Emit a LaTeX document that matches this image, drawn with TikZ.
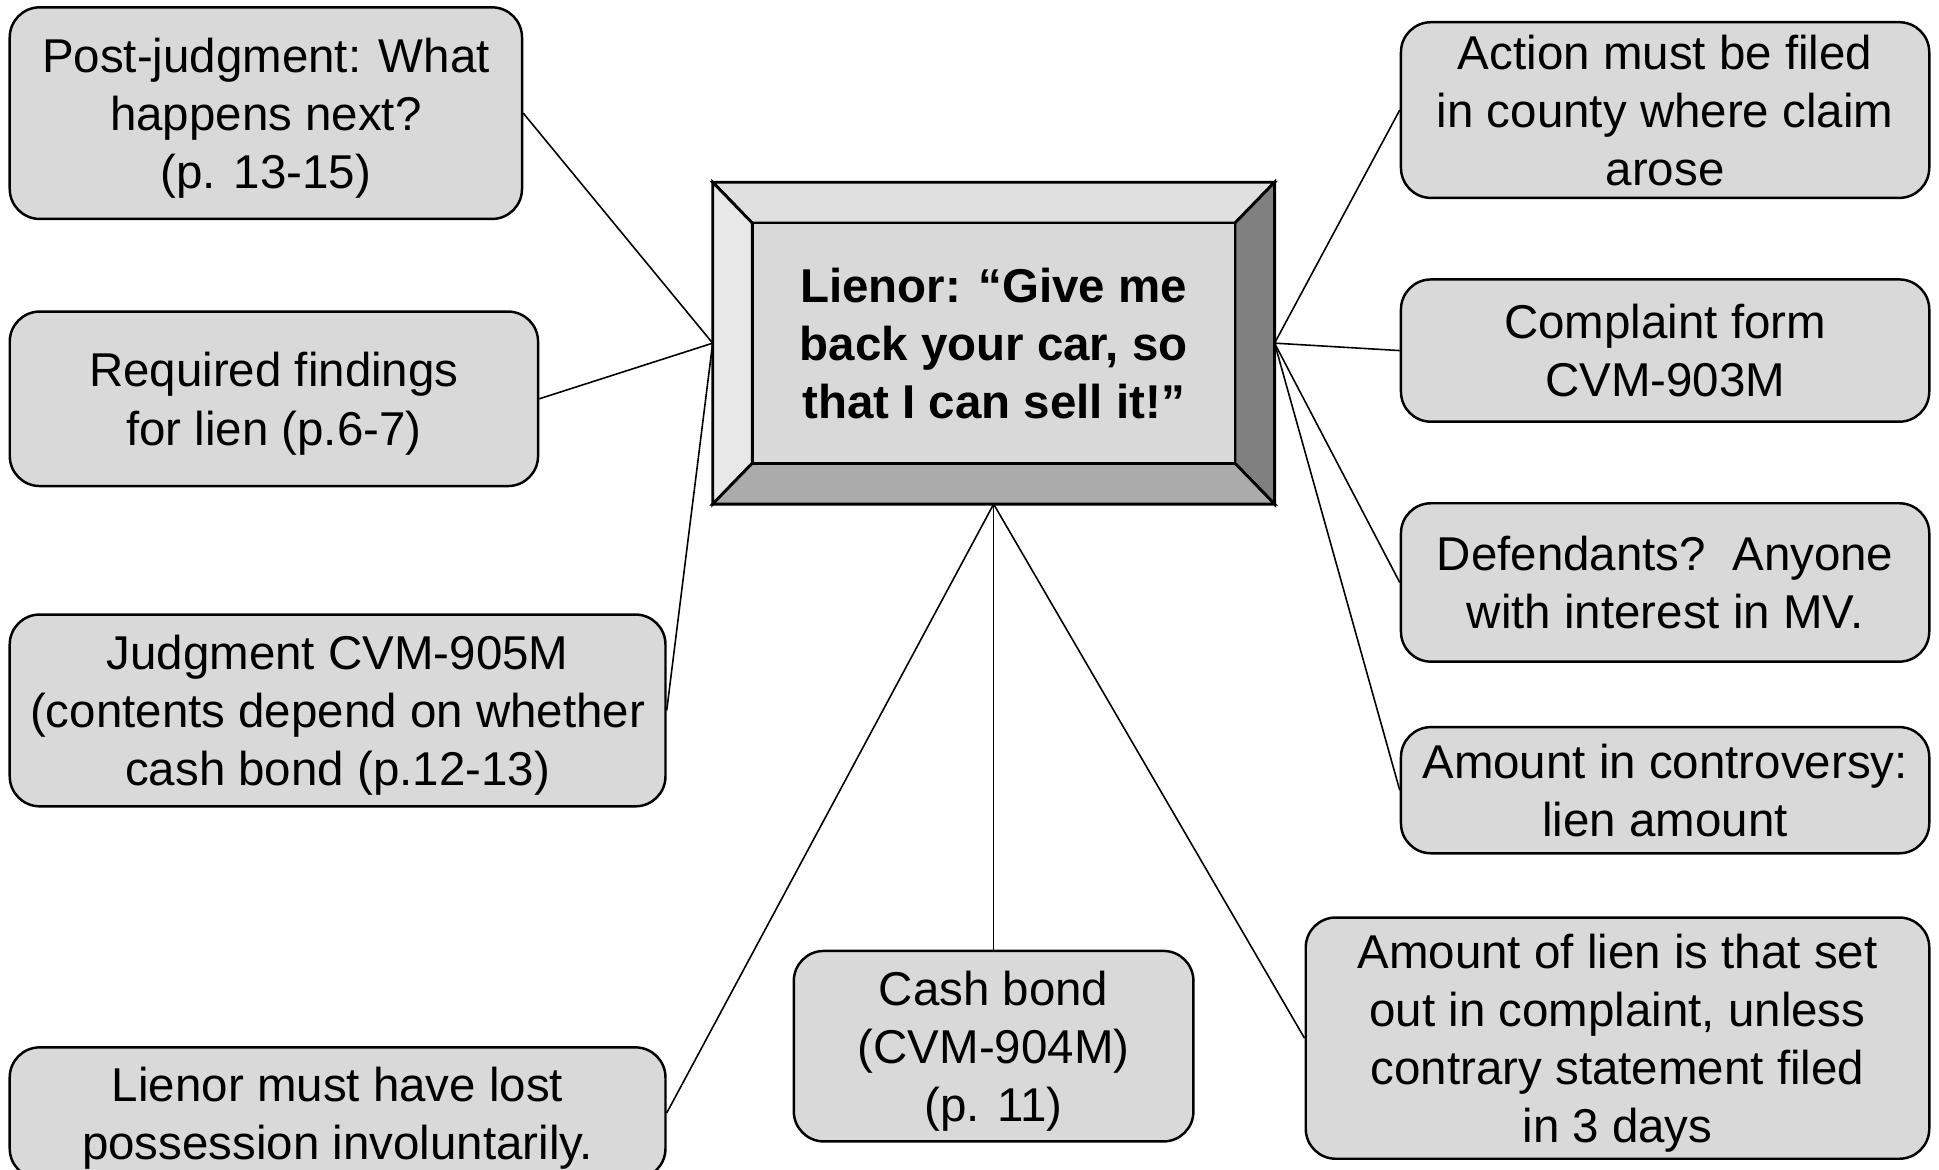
\documentclass[tikz,border=0pt]{standalone}
\usepackage{fontspec}
\setmainfont{Liberation Sans}
\definecolor{boxgray}{HTML}{D9D9D9}
\definecolor{bevtop}{HTML}{E0E0E0}
\definecolor{bevleft}{HTML}{E8E8E8}
\definecolor{bevright}{HTML}{808080}
\definecolor{bevbot}{HTML}{ABABAB}
\tikzset{
  bx/.style={draw=black, line width=0.7pt, fill=boxgray, rounded corners=0.3cm,
    align=center, inner sep=0pt, text depth=0pt, font=\fontsize{13.5}{16.5}\selectfont},
  conn/.style={draw=black, line width=0.45pt},
  bev/.style={draw=black, line width=0.8pt, line join=miter}
}
\begin{document}
\begin{tikzpicture}[x=0.012366cm, y=-0.012366cm]
\fill[white] (0,0) rectangle (1568,946);
\useasboundingbox (0,0) rectangle (1568,946);

% central bevelled box
\node[minimum width=5.602cm, minimum height=3.203cm, inner sep=0pt] (c) at (803.5,277.5) {};
\coordinate (inw) at ([shift={(32,33)}]c.north west);
\coordinate (ine) at ([shift={(-32,33)}]c.north east);
\coordinate (ise) at ([shift={(-32,-33)}]c.south east);
\coordinate (isw) at ([shift={(32,-33)}]c.south west);
\filldraw[bev, fill=bevtop] (c.north west) -- (c.north east) -- (ine) -- (inw) -- cycle;
\filldraw[bev, fill=bevleft] (c.north west) -- (inw) -- (isw) -- (c.south west) -- cycle;
\filldraw[bev, fill=bevright] (c.north east) -- (c.south east) -- (ise) -- (ine) -- cycle;
\filldraw[bev, fill=bevbot] (c.south west) -- (isw) -- (ise) -- (c.south east) -- cycle;
\filldraw[bev, fill=boxgray] (inw) -- (ine) -- (ise) -- (isw) -- cycle;
\node[align=center, inner sep=0pt, text depth=0pt, font=\fontsize{13.5}{16.5}\selectfont\bfseries] (ctext) at (c.center)
  {Lienor: “Give me\\back your car, so\\that I can sell it!”};

% left boxes
\node[bx, minimum width=5.12cm, minimum height=2.115cm] (post) at (215,91.5)
  {Post-judgment: What\\happens next?\\(p. 13-15)};
\node[bx, minimum width=5.28cm, minimum height=1.744cm] (req) at (221.5,322.5)
  {Required findings\\for lien (p.6-7)};
\node[bx, minimum width=6.554cm, minimum height=1.917cm] (judg) at (273,574.5)
  {Judgment CVM-905M\\(contents depend on whether\\cash bond (p.12-13)};
\node[bx, minimum width=6.554cm, minimum height=1.311cm] (lost) at (273,900)
  {Lienor must have lost\\possession involuntarily.};

% bottom boxes
\node[bx, minimum width=3.994cm, minimum height=1.904cm] (cash) at (803.5,846)
  {Cash bond\\(CVM-904M)\\(p. 11)};
\node[bx, minimum width=6.232cm, minimum height=2.411cm] (amtlien) at (1308,839.5)
  {Amount of lien is that set\\out in complaint, unless\\contrary statement filed\\in 3 days};

% right boxes
\node[bx, minimum width=5.28cm, minimum height=1.756cm] (action) at (1346.5,89)
  {Action must be filed\\in county where claim\\arose};
\node[bx, minimum width=5.28cm, minimum height=1.422cm] (compl) at (1346.5,283.5)
  {Complaint form\\CVM-903M};
\node[bx, minimum width=5.28cm, minimum height=1.583cm] (def) at (1346.5,471)
  {Defendants?\ \ Anyone\\with interest in MV.};
\node[bx, minimum width=5.28cm, minimum height=1.261cm] (amtc) at (1346.5,639)
  {Amount in controversy:\\lien amount};

% connectors
\draw[conn] (post.east) -- (c.west);
\draw[conn] (req.east) -- (c.west);
\draw[conn] (judg.east) -- (c.west);
\draw[conn] (lost.east) -- (c.south);
\draw[conn] (cash.north) -- (c.south);
\draw[conn] (amtlien.west) -- (c.south);
\draw[conn] (action.west) -- (c.east);
\draw[conn] (compl.west) -- (c.east);
\draw[conn] (def.west) -- (c.east);
\draw[conn] (amtc.west) -- (c.east);
\end{tikzpicture}
\end{document}
